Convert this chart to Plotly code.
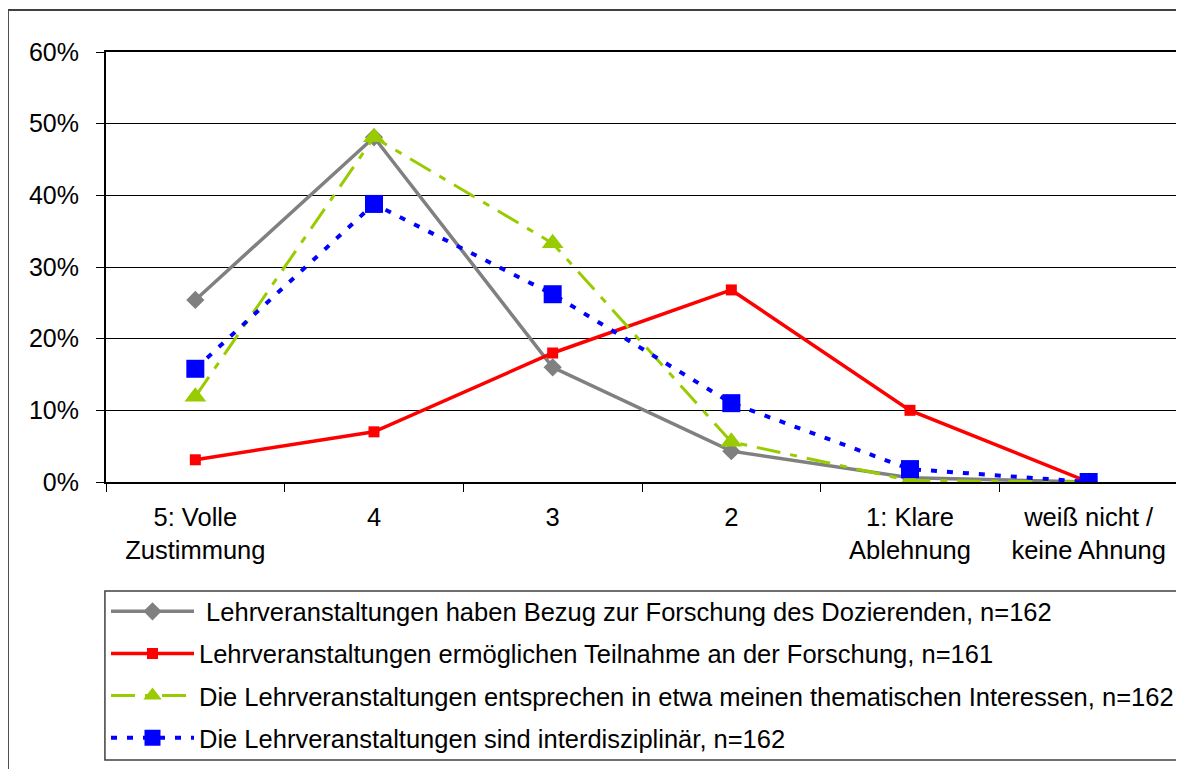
import plotly.graph_objects as go

# Kategorien und Werte (in Prozent)
kategorien = ["5: Volle<br>Zustimmung", "4", "3", "2", "1: Klare<br>Ablehnung", "weiß nicht /<br>keine Ahnung"]
bezug = [25.4, 48.1, 16.0, 4.3, 0.6, 0.0]
teilnahme = [3.1, 7.0, 18.0, 26.8, 10.0, 0.0]
interessen = [11.9, 48.1, 33.3, 5.6, 0.2, 0.0]
interdisziplinaer = [15.8, 38.8, 26.2, 11.0, 1.8, 0.0]

namen = [
    " Lehrveranstaltungen haben Bezug zur Forschung des Dozierenden, n=162",
    "Lehrveranstaltungen ermöglichen Teilnahme an der Forschung, n=161",
    "Die Lehrveranstaltungen entsprechen in etwa meinen thematischen Interessen, n=162",
    "Die Lehrveranstaltungen sind interdisziplinär, n=162",
]

x = list(range(len(kategorien)))
fig = go.Figure()

fig.add_trace(go.Scatter(x=x, y=bezug, mode="lines+markers", name=namen[0], legendgroup="a",
                         line=dict(color="#808080", width=3.5),
                         marker=dict(symbol="diamond", size=14, color="#808080")))
fig.add_trace(go.Scatter(x=x, y=teilnahme, mode="lines+markers", name=namen[1], legendgroup="b",
                         line=dict(color="#ff0000", width=3.5),
                         marker=dict(symbol="square", size=11, color="#ff0000")))
fig.add_trace(go.Scatter(x=x, y=interessen, mode="lines+markers", name=namen[2], legendgroup="c",
                         line=dict(color="#99cc00", width=3, dash="24px,10px,7px,10px"),
                         marker=dict(symbol="triangle-up", size=19, color="#99cc00")))
fig.add_trace(go.Scatter(x=x, y=interdisziplinaer, mode="lines+markers", name=namen[3], legendgroup="d",
                         line=dict(color="#0000ff", width=4, dash="6px,10px"),
                         marker=dict(symbol="square", size=18, color="#0000ff")))

# die Seite hat einen kleinen Rand, daher Ränder etwas versetzt
fig.update_layout(
    width=1184, height=769,
    margin=dict(l=98, r=12, t=44, b=295),
    paper_bgcolor="white", plot_bgcolor="white",
    font=dict(family="Liberation Sans, Arial, sans-serif", size=25, color="black"),
    legend=dict(x=0.0, y=-0.247, xanchor="left", yanchor="top",
                bgcolor="rgba(0,0,0,0)", tracegroupgap=6,
                font=dict(size=25.5), itemwidth=83),
    showlegend=True,
)

fig.update_xaxes(
    tickmode="array", tickvals=x, ticktext=kategorien,
    range=[-0.5, 5.5], showgrid=False, zeroline=False,
    showline=True, linecolor="black", linewidth=2, mirror=True,
    ticks="outside", ticklen=0, tickcolor="black",
    tickfont=dict(size=25.5), ticklabelstandoff=11,
    minor=dict(tickvals=[i + 0.5 for i in range(-1, 6)], ticks="outside",
               ticklen=8, tickcolor="black"),
)

fig.update_yaxes(
    range=[0, 60], dtick=10, ticksuffix="%",
    showgrid=True, gridcolor="black", gridwidth=1, zeroline=False,
    showline=True, linecolor="black", linewidth=2, mirror=True,
    ticks="outside", ticklen=8, tickcolor="black",
    tickfont=dict(size=25), ticklabelstandoff=12,
)

# Rahmen der Legende und äußerer Diagrammrahmen
fig.add_shape(type="rect", xref="paper", yref="paper",
              x0=-0.001, x1=1.0, y0=-0.6465, y1=-0.2535,
              line=dict(color="#404040", width=1.5))
fig.add_shape(type="rect", xref="paper", yref="paper",
              x0=-0.0915, x1=1.05, y0=-0.70, y1=1.0977,
              line=dict(color="#404040", width=2))

fig.write_html("out.html")
